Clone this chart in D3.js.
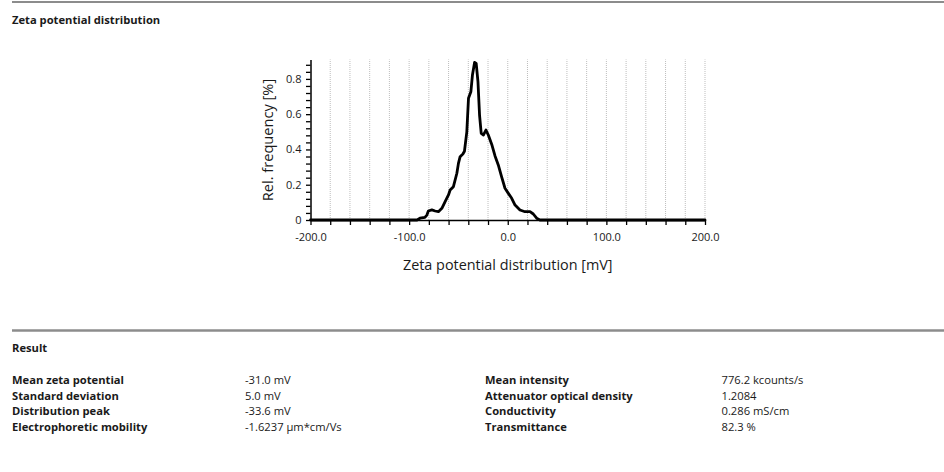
<!DOCTYPE html>
<html>
<head>
<meta charset="utf-8">
<script src="https://cdn.jsdelivr.net/npm/d3@7"></script>
<style>
  html, body { margin: 0; padding: 0; background: #fff; }
  svg { display: block; }
  text { font-family: "Open Sans", "Noto Sans", sans-serif; fill: #1a1a1a; }
</style>
</head>
<body>
<svg id="chart" width="944" height="472"></svg>
<script>
// Zeta potential distribution (mV) and relative frequency (%)
const zetaMv = [-200, -92, -89, -84, -82, -80.5, -77, -73.6, -70.3, -66.8, -63.5, -60.1, -58.4, -55.1,
  -51.6, -50, -48.3, -45.5, -43.9, -41.5, -39.8, -37.4, -35.8, -33.6, -32.0, -30.2, -28.6, -26.9,
  -24.6, -22.1, -19.7, -16.3, -12.9, -9.6, -6.2, -2.8, 0.6, 4.0, 7.4, 12.4, 17.5, 22.6, 25.9, 29.3,
  32.6, 200];
const relFreq = [0, 0, 0.010, 0.015, 0.028, 0.051, 0.057, 0.051, 0.047, 0.066, 0.104, 0.142, 0.170, 0.189,
  0.265, 0.321, 0.359, 0.374, 0.39, 0.50, 0.69, 0.727, 0.822, 0.894, 0.888, 0.784, 0.595, 0.491,
  0.482, 0.51, 0.482, 0.43, 0.363, 0.312, 0.245, 0.18, 0.151, 0.123, 0.085, 0.057, 0.047, 0.047, 0.034, 0.01,
  0, 0];

const xTicks = d3.range(-200, 201, 20);
const xTickLabels = [-200, -100, 0, 100, 200];
const yTicks = d3.range(0, 0.9, 0.04);
const yTickLabels = [0, 0.2, 0.4, 0.6, 0.8];

const sectionTitle = "Zeta potential distribution";
const xAxisTitle = "Zeta potential distribution [mV]";
const yAxisTitle = "Rel. frequency [%]";
const resultTitle = "Result";
const resultLabelsLeft = ["Mean zeta potential", "Standard deviation", "Distribution peak", "Electrophoretic mobility"];
const resultValuesLeft = ["-31.0 mV", "5.0 mV", "-33.6 mV", "-1.6237 µm*cm/Vs"];
const resultLabelsRight = ["Mean intensity", "Attenuator optical density", "Conductivity", "Transmittance"];
const resultValuesRight = ["776.2 kcounts/s", "1.2084", "0.286 mS/cm", "82.3 %"];

const svg = d3.select("#chart");

// Section separators
svg.append("line").attr("x1", 12).attr("x2", 944).attr("y1", 2).attr("y2", 2)
  .attr("stroke", "#8c8c8c").attr("stroke-width", 2);
svg.append("line").attr("x1", 12).attr("x2", 944).attr("y1", 330.5).attr("y2", 330.5)
  .attr("stroke", "#8c8c8c").attr("stroke-width", 2.5);

svg.append("text").attr("x", 12).attr("y", 20).attr("dy", "0.35em")
  .attr("font-size", 11.2).attr("font-weight", 700).text(sectionTitle);

// Scales
const x = d3.scaleLinear().domain([-200, 200]).range([310.5, 705]);
const y = d3.scaleLinear().domain([0, 0.91]).range([220, 59.5]);

// Vertical dotted grid
svg.append("g").selectAll("line").data(xTicks.filter(d => d > -200)).join("line")
  .attr("x1", d => x(d)).attr("x2", d => x(d))
  .attr("y1", y(0)).attr("y2", y(0.91))
  .attr("stroke", "#bdbdbd").attr("stroke-width", 1).attr("stroke-dasharray", "1,1");

// X axis
const xAxis = d3.axisBottom(x).tickValues(xTicks).tickSize(5).tickSizeOuter(0)
  .tickFormat(d => xTickLabels.includes(d) ? d.toFixed(1) : "");
const gx = svg.append("g").attr("transform", `translate(0,${y(0)})`).call(xAxis);
gx.select(".domain").attr("stroke", "#000").attr("stroke-width", 1.5);
gx.selectAll(".tick line").attr("stroke", "#000").attr("stroke-width", 1.3);
gx.selectAll(".tick text").attr("font-family", "'Open Sans', sans-serif").attr("font-size", 11)
  .attr("fill", "#333").attr("y", 17).attr("dy", "0.35em");

// Y axis
const yAxis = d3.axisLeft(y).tickValues(yTicks).tickSize(4.5).tickSizeOuter(0)
  .tickFormat(d => {
    const hit = yTickLabels.find(v => Math.abs(v - d) < 1e-6);
    return hit === undefined ? "" : (hit === 0 ? "0" : hit.toFixed(1));
  });
const gy = svg.append("g").attr("transform", `translate(${x(-200)},0)`).call(yAxis);
gy.select(".domain").attr("stroke", "#000").attr("stroke-width", 1.5);
gy.selectAll(".tick line").attr("stroke", "#000").attr("stroke-width", 1.3);
gy.selectAll(".tick text").attr("font-family", "'Open Sans', sans-serif").attr("font-size", 11)
  .attr("fill", "#333").attr("x", -9);

// Axis titles
svg.append("text").attr("x", x(0)).attr("y", 265).attr("dy", "0.35em")
  .attr("text-anchor", "middle").attr("font-size", 14.4).attr("fill", "#333").text(xAxisTitle);
svg.append("text").attr("transform", `translate(268,140) rotate(-90)`).attr("dy", "0.35em")
  .attr("text-anchor", "middle").attr("font-size", 14.6).attr("fill", "#333").text(yAxisTitle);

// Distribution curve
const pts = zetaMv.map((v, i) => [v, relFreq[i]]);
svg.append("path").datum(pts)
  .attr("fill", "none").attr("stroke", "#000").attr("stroke-width", 2.8)
  .attr("stroke-linejoin", "round").attr("stroke-linecap", "round")
  .attr("d", d3.line().x(d => x(d[0])).y(d => y(d[1])));

// Result table
svg.append("text").attr("x", 12).attr("y", 348).attr("dy", "0.35em")
  .attr("font-size", 11.2).attr("font-weight", 700).text(resultTitle);

const rowY = i => 380 + i * 15.6;
function column(arr, xPos, bold) {
  svg.append("g").selectAll("text").data(arr).join("text")
    .attr("x", xPos).attr("y", (d, i) => rowY(i)).attr("dy", "0.35em")
    .attr("font-size", 11.2).attr("font-weight", bold ? 700 : 400).text(d => d);
}
column(resultLabelsLeft, 12, true);
column(resultValuesLeft, 245, false);
column(resultLabelsRight, 485, true);
column(resultValuesRight, 721.5, false);
</script>
</body>
</html>
